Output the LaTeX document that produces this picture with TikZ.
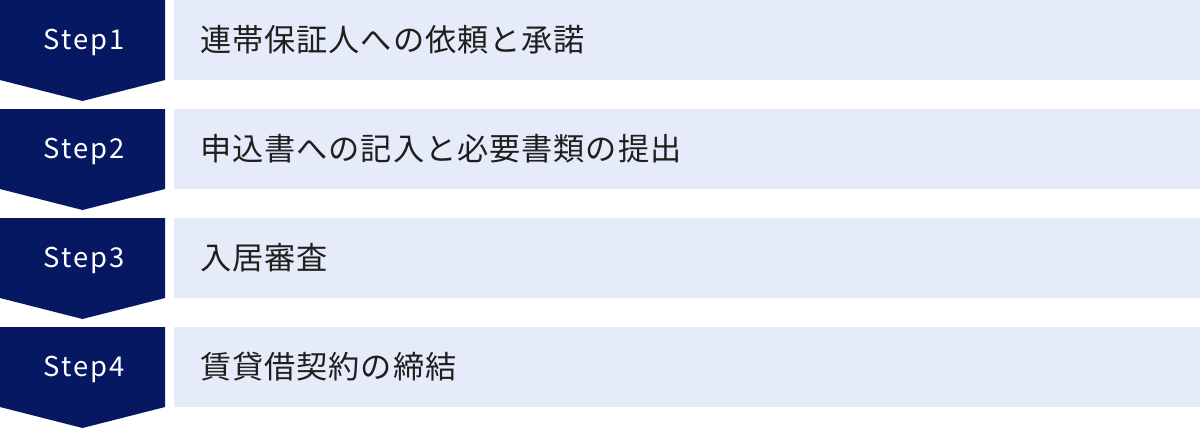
\documentclass[tikz,border=0pt]{standalone}
\usepackage{fontspec}
\setmainfont{Noto Sans CJK JP}
\newfontfamily\stepfont[LetterSpace=7]{Noto Sans CJK JP}
\newfontfamily\taskfont[LetterSpace=3]{Noto Sans CJK JP}
\definecolor{stepnavy}{HTML}{061862}
\definecolor{rowblue}{HTML}{E5EBF8}
\begin{document}
\begin{tikzpicture}
  [x=0.75pt, y=-0.75pt,
  stepbox/.style={fill=stepnavy},
  steplabel/.style={text=white, inner sep=0pt, font=\stepfont\fontsize{20.5}{20.5}\selectfont},
  rowbox/.style={fill=rowblue},
  rowlabel/.style={text=black!88, anchor=west, inner sep=0pt,
    font=\taskfont\fontsize{23.4}{23.4}\selectfont}]
  \useasboundingbox (0,0) rectangle (1200,429);
  \foreach \n/\task in {1/連帯保証人への依頼と承諾,
                        2/申込書への記入と必要書類の提出,
                        3/入居審査,
                        4/賃貸借契約の締結} {
    \pgfmathsetmacro\rowtop{109*(\n-1)}
    \fill[stepbox] (0,\rowtop) -- ++(165,0) -- ++(0,80) -- ++(-82.5,21)
      -- ++(-82.5,-21) -- cycle;
    \node[steplabel] (step\n) at (84,\rowtop+42) {Step\n};
    \fill[rowbox] (174,\rowtop) rectangle (1200,\rowtop+80);
    \node[rowlabel] (task\n) at (200,\rowtop+40) {\task};
  }
\end{tikzpicture}
\end{document}
